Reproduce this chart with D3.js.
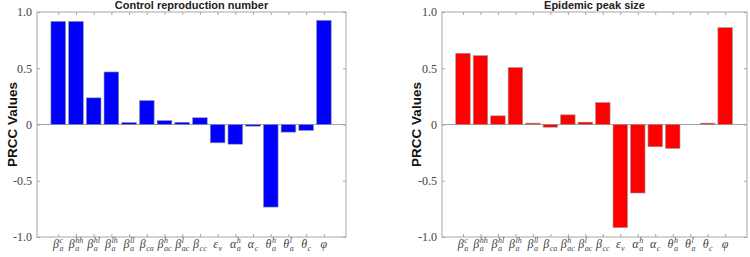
<!DOCTYPE html>
<html>
<head>
<meta charset="utf-8">
<script src="https://cdn.jsdelivr.net/npm/d3@7"></script>
<style>
  body { margin: 0; background: #fff; }
</style>
</head>
<body>
<script>
// parameter labels: [base, subscript, superscript]
var labels = [
  ["β", "a", "c"], ["β", "a", "hh"], ["β", "a", "hl"], ["β", "a", "lh"],
  ["β", "a", "ll"], ["β", "ca", ""], ["β", "ac", "h"], ["β", "ac", "l"],
  ["β", "cc", ""], ["ε", "v", ""], ["α", "a", "h"], ["α", "c", ""],
  ["θ", "a", "h"], ["θ", "a", "l"], ["θ", "c", ""], ["φ", "", ""]
];

var r0Values = [0.917, 0.917, 0.237, 0.467, 0.018, 0.213, 0.035, 0.020,
                0.060, -0.163, -0.175, -0.015, -0.734, -0.068, -0.053, 0.926];

var peakValues = [0.633, 0.612, 0.077, 0.506, 0.012, -0.024, 0.086, 0.021,
                  0.195, -0.917, -0.609, -0.198, -0.213, 0.0, 0.012, 0.861];

var yTicks = [-1, -0.5, 0, 0.5, 1];
var yTickLabels = ["-1.0", "-0.5", "0", "0.5", "1.0"];

var width = 750, height = 257;

var svg = d3.select("body").append("svg")
    .attr("width", width)
    .attr("height", height);

var panels = [
  { title: "Control reproduction number", values: r0Values, color: "#0000ff",
    left: 37, right: 346, ylab: 17 },
  { title: "Epidemic peak size", values: peakValues, color: "#ff0000",
    left: 442, right: 747, ylab: 421 }
];

var plotTop = 12, plotBottom = 237;
var axisColor = "#a6a6a6";

panels.forEach(function(p) {
  var x = d3.scaleLinear()
      .domain([-1.2, labels.length - 1 + 1.25])
      .range([p.left, p.right]);
  var y = d3.scaleLinear().domain([-1, 1]).range([plotBottom, plotTop]);

  var g = svg.append("g");

  // zero line
  g.append("line")
      .attr("x1", p.left).attr("x2", p.right)
      .attr("y1", y(0)).attr("y2", y(0))
      .attr("stroke", axisColor).attr("stroke-width", 1);

  var bw = (x(1) - x(0)) * 0.83;
  g.selectAll("rect.bar")
      .data(p.values)
      .enter().append("rect")
      .attr("class", "bar")
      .attr("x", function(d, i) { return x(i) - bw / 2; })
      .attr("y", function(d) { return y(Math.max(0, d)); })
      .attr("width", bw)
      .attr("height", function(d) { return Math.abs(y(d) - y(0)); })
      .attr("fill", p.color)
      .attr("stroke", "#9a9a9a")
      .attr("stroke-width", 0.6);

  var idx = d3.range(labels.length);

  function styleAxis(sel) {
    sel.select(".domain").remove();
    sel.selectAll(".tick line").attr("stroke", axisColor);
  }

  g.append("g").attr("transform", "translate(0," + plotBottom + ")")
      .call(d3.axisBottom(x).tickValues(idx).tickSize(-3).tickFormat(""))
      .call(styleAxis);
  g.append("g").attr("transform", "translate(0," + plotTop + ")")
      .call(d3.axisTop(x).tickValues(idx).tickSize(-3).tickFormat(""))
      .call(styleAxis);
  g.append("g").attr("transform", "translate(" + p.right + ",0)")
      .call(d3.axisRight(y).tickValues(yTicks).tickSize(-3).tickFormat(""))
      .call(styleAxis);
  var ya = g.append("g").attr("transform", "translate(" + p.left + ",0)")
      .call(d3.axisLeft(y).tickValues(yTicks).tickSize(-3).tickPadding(5)
        .tickFormat(function(d, i) { return yTickLabels[i]; }))
      .call(styleAxis);
  ya.attr("font-family", "Liberation Serif, serif").attr("font-size", 12);
  ya.selectAll("text").attr("fill", "#444");

  // box
  g.append("rect")
      .attr("x", p.left).attr("y", plotTop)
      .attr("width", p.right - p.left).attr("height", plotBottom - plotTop)
      .attr("fill", "none").attr("stroke", axisColor).attr("stroke-width", 1);

  // title
  g.append("text")
      .attr("x", (p.left + p.right) / 2).attr("y", 9)
      .attr("text-anchor", "middle")
      .attr("font-family", "Liberation Sans, Arial, sans-serif")
      .attr("font-weight", "bold").attr("font-size", 11)
      .attr("fill", "#222")
      .text(p.title);

  // y label
  g.append("text")
      .attr("transform", "translate(" + p.ylab + "," + y(0) + ") rotate(-90)")
      .attr("text-anchor", "middle")
      .attr("font-family", "Liberation Sans, Arial, sans-serif")
      .attr("font-weight", "bold").attr("font-size", 13.5)
      .attr("fill", "#111")
      .text("PRCC Values");

  // x tick labels with sub/superscripts
  var base = 248;
  idx.forEach(function(i) {
    var lab = labels[i];
    var lg = g.append("g")
        .attr("font-family", "Liberation Serif, serif")
        .attr("font-style", "italic")
        .attr("fill", "#444");
    var b = lg.append("text")
        .attr("y", base)
        .attr("font-size", 12)
        .text(lab[0]);
    var bwid = b.node().getComputedTextLength();
    var sub = lg.append("text")
        .attr("y", base + 3)
        .attr("font-size", 8)
        .text(lab[1]);
    var sup = lg.append("text")
        .attr("y", base - 5)
        .attr("font-size", 8)
        .text(lab[2]);
    var sw = Math.max(sub.node().getComputedTextLength(), sup.node().getComputedTextLength());
    var total = bwid + sw + (sw > 0 ? 0.5 : 0);
    var x0 = x(i) - total / 2;
    b.attr("x", x0);
    sub.attr("x", x0 + bwid + 0.5);
    sup.attr("x", x0 + bwid + 0.5);
  });
});
</script>
</body>
</html>
